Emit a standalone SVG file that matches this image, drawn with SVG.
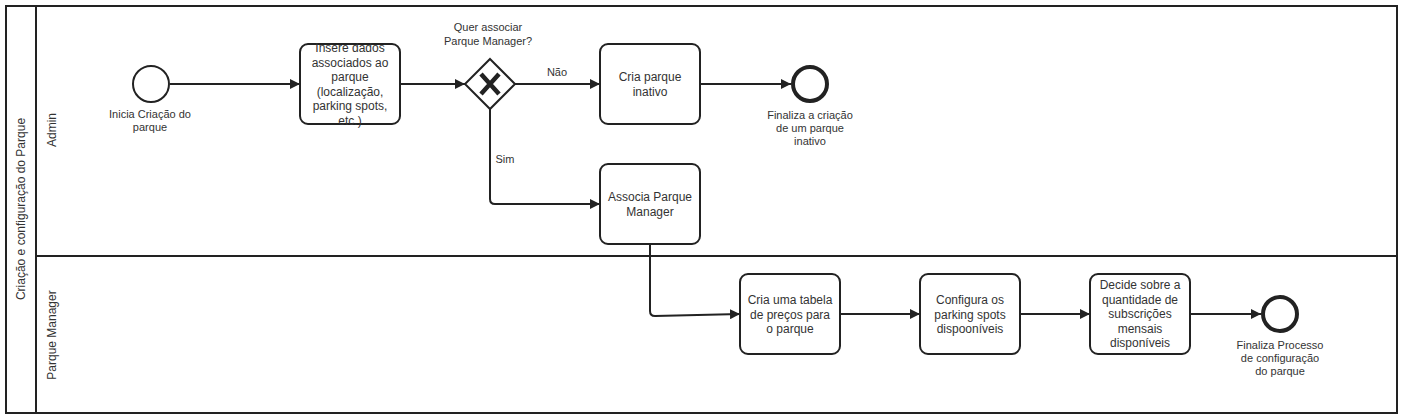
<svg xmlns="http://www.w3.org/2000/svg" width="1404" height="420" viewBox="0 0 1404 420">
<defs>
<style>
.frame{fill:#fff;stroke:#222;stroke-width:2}
.line{fill:none;stroke:#222;stroke-width:2}
.task{fill:#fff;stroke:#222;stroke-width:2}
.ev{fill:#fff;stroke:#222;stroke-width:2}
.end{fill:#fff;stroke:#222;stroke-width:4}
.conn{fill:none;stroke:#222;stroke-width:2}
text{font-family:"Liberation Sans",Arial,sans-serif;fill:#333}
.t12{font-size:12px}
.t11{font-size:11px}
</style>
<marker id="arr" viewBox="0 0 10 10" refX="10" refY="5" markerWidth="10" markerHeight="10" markerUnits="userSpaceOnUse" orient="auto">
<path d="M0,0 L10,5 L0,10 z" fill="#222"/>
</marker>
</defs>
<rect width="1404" height="420" fill="#fff"/>
<g id="pool">
<rect class="frame" x="6" y="6" width="1391" height="407"/>
<line class="line" x1="36" y1="6" x2="36" y2="413"/>
<line class="line" x1="36" y1="256" x2="1397" y2="256"/>
<text class="t12" transform="translate(25,209) rotate(-90)" text-anchor="middle">Criação e configuração do Parque</text>
</g>
<g id="lane-admin">
<text class="t12" transform="translate(56,130) rotate(-90)" text-anchor="middle">Admin</text>
</g>
<g id="lane-manager">
<text class="t12" transform="translate(56,335) rotate(-90)" text-anchor="middle">Parque Manager</text>
</g>
<g id="connectors">
<path class="conn" d="M170,84 H300" marker-end="url(#arr)"/>
<path class="conn" d="M400,84 H465" marker-end="url(#arr)"/>
<path class="conn" d="M515,84 H600" marker-end="url(#arr)"/>
<path class="conn" d="M700,84 H791" marker-end="url(#arr)"/>
<path class="conn" d="M490,108 V199 Q490,204 495,204 H600" marker-end="url(#arr)"/>
<path class="conn" d="M650,244 V311 Q650,316 655,316 L740,314" marker-end="url(#arr)"/>
<path class="conn" d="M840,314 H920" marker-end="url(#arr)"/>
<path class="conn" d="M1020,314 H1090" marker-end="url(#arr)"/>
<path class="conn" d="M1190,314 H1261" marker-end="url(#arr)"/>
<text class="t11" x="557" y="76" text-anchor="middle">Não</text>
<text class="t11" x="505" y="163" text-anchor="middle">Sim</text>
</g>
<g id="start">
<circle class="ev" cx="151" cy="84" r="18"/>
<text class="t11" x="150" y="118" text-anchor="middle">Inicia Criação do</text>
<text class="t11" x="150" y="131" text-anchor="middle">parque</text>
</g>
<g id="task-insere">
<rect class="task" x="300" y="44" width="100" height="80" rx="8"/>
<text class="t12" text-anchor="middle"><tspan x="350" y="52">Insere dados</tspan><tspan x="350" y="66.5">associados ao</tspan><tspan x="350" y="81">parque</tspan><tspan x="350" y="95.5">(localização,</tspan><tspan x="350" y="110">parking spots,</tspan><tspan x="350" y="124.5">etc.)</tspan></text>
</g>
<g id="gateway">
<path class="task" d="M490,59 L515,84 L490,109 L465,84 z"/>
<path d="M481,74 L499,94 M499,74 L481,94" stroke="#222" stroke-width="4.5" fill="none"/>
<text class="t11" x="488" y="31" text-anchor="middle">Quer associar</text>
<text class="t11" x="488" y="45" text-anchor="middle">Parque Manager?</text>
</g>
<g id="task-cria-inativo">
<rect class="task" x="600" y="44" width="100" height="80" rx="8"/>
<text class="t12" text-anchor="middle"><tspan x="650" y="81">Cria parque</tspan><tspan x="650" y="96">inativo</tspan></text>
</g>
<g id="end-inativo">
<circle class="end" cx="810" cy="84" r="17"/>
<text class="t11" x="810" y="119" text-anchor="middle">Finaliza a criação</text>
<text class="t11" x="810" y="132" text-anchor="middle">de um parque</text>
<text class="t11" x="810" y="145" text-anchor="middle">inativo</text>
</g>
<g id="task-associa">
<rect class="task" x="600" y="164" width="100" height="80" rx="8"/>
<text class="t12" text-anchor="middle"><tspan x="650" y="201">Associa Parque</tspan><tspan x="650" y="216">Manager</tspan></text>
</g>
<g id="task-tabela">
<rect class="task" x="740" y="274" width="100" height="80" rx="8"/>
<text class="t12" text-anchor="middle"><tspan x="790" y="304">Cria uma tabela</tspan><tspan x="790" y="319">de preços para</tspan><tspan x="790" y="333">o parque</tspan></text>
</g>
<g id="task-configura">
<rect class="task" x="920" y="274" width="100" height="80" rx="8"/>
<text class="t12" text-anchor="middle"><tspan x="970" y="304">Configura os</tspan><tspan x="970" y="319">parking spots</tspan><tspan x="970" y="333">dispooníveis</tspan></text>
</g>
<g id="task-decide">
<rect class="task" x="1090" y="274" width="100" height="80" rx="8"/>
<text class="t12" text-anchor="middle"><tspan x="1140" y="289">Decide sobre a</tspan><tspan x="1140" y="304">quantidade de</tspan><tspan x="1140" y="318">subscrições</tspan><tspan x="1140" y="333">mensais</tspan><tspan x="1140" y="347">disponíveis</tspan></text>
</g>
<g id="end-config">
<circle class="end" cx="1280" cy="314" r="17"/>
<text class="t11" x="1280" y="349" text-anchor="middle">Finaliza Processo</text>
<text class="t11" x="1280" y="362" text-anchor="middle">de configuração</text>
<text class="t11" x="1280" y="375" text-anchor="middle">do parque</text>
</g>
</svg>
